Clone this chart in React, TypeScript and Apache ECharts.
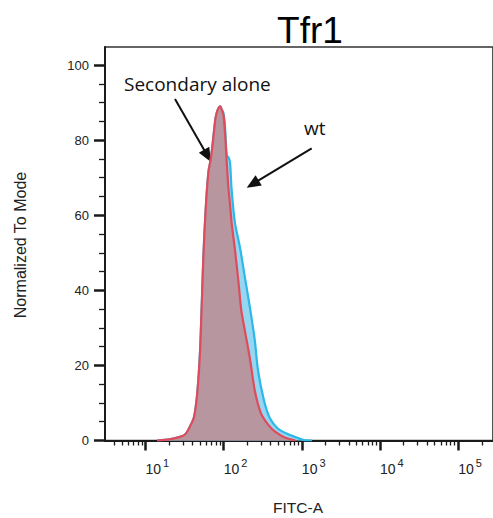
import React, { useEffect, useRef } from "react";
import * as echarts from "echarts";

// FITC-A intensity (linear units) and "Normalized To Mode" values
const secondaryFitc = [14.1, 20.1, 26.9, 32.0, 36.0, 41.6, 45.4, 48.1, 50.2, 51.6, 53.2, 54.8, 57.3, 60.7, 64.3, 68.1, 70.8, 74.3, 78.7, 83.6, 90.4, 93.8, 99.3, 104.5, 109.4, 115.1, 120.8, 126.5, 139.6, 153.8, 167.9, 186.6, 216.3, 250.0, 299.9, 368.1, 450.8, 602.6, 829.8];
const secondaryMode = [0, 0.3, 0.9, 1.6, 3.2, 6.1, 11.5, 18, 25, 32, 40, 48, 57, 66, 72, 74.7, 77.3, 81.3, 85.9, 88, 89, 88.3, 86.7, 81.3, 74.2, 67.2, 62.7, 57.9, 50.7, 42.7, 34.7, 29.3, 21.9, 13.3, 7.2, 4.3, 2.4, 0.8, 0];

const wtFitc = [14.1, 20.1, 26.9, 32.0, 36.0, 41.6, 45.4, 48.1, 50.2, 51.6, 53.2, 54.8, 57.3, 60.7, 64.3, 68.1, 70.8, 74.3, 78.7, 83.6, 90.4, 93.8, 99.3, 103.8, 109.4, 116.7, 120.8, 126.5, 139.6, 161.4, 186.6, 216.3, 250.0, 274.8, 327.3, 390.0, 492.0, 657.7, 879.0, 1069, 1349];
const wtMode = [0, 0.3, 0.9, 1.6, 3.2, 6.1, 11.5, 18, 25, 32, 40, 48, 57, 66, 72, 74.7, 77.3, 81.3, 85.9, 88, 89, 88.3, 87.2, 84, 76, 75.2, 73.9, 66.7, 57.9, 51.5, 43.5, 35.5, 26.7, 18.7, 10.7, 5.9, 3.2, 1.7, 0.7, 0.1, 0];

const yTickValues = [0, 20, 40, 60, 80, 100];
const yMinorValues = [5, 10, 15, 25, 30, 35, 45, 50, 55, 65, 70, 75, 85, 90, 95];
const xDecadeExponents = [1, 2, 3, 4, 5];
const xMinorMultipliers = [2, 3, 4, 5, 6, 7, 8, 9];

const FONT = "'Liberation Sans', Arial, sans-serif";
const AXIS_COLOR = "#1a1a1a";

function arrow(x1: number, y1: number, x2: number, y2: number) {
  const dx = x2 - x1;
  const dy = y2 - y1;
  const len = Math.sqrt(dx * dx + dy * dy);
  const ux = dx / len;
  const uy = dy / len;
  const headLen = 14;
  const halfW = 6;
  const bx = x2 - ux * headLen;
  const by = y2 - uy * headLen;
  const px = -uy * halfW;
  const py = ux * halfW;
  return [
    {
      type: "line",
      shape: { x1, y1, x2: bx + ux * 2, y2: by + uy * 2 },
      style: { stroke: "#111", lineWidth: 2 },
    },
    {
      type: "polygon",
      shape: { points: [[x2, y2], [bx + px, by + py], [bx - px, by - py]] },
      style: { fill: "#111" },
    },
  ];
}

export default function App() {
  const ref = useRef<HTMLDivElement>(null);

  useEffect(() => {
    document.body.style.margin = "0";
    const chart = echarts.init(ref.current!, null, { renderer: "svg" });

    const decade = 79.2;
    const x10 = 146;
    const gLeft = 105;
    const gRight = 498;
    const gTop = 47;
    const gBottom = 440.5;
    const pxPerUnit = 3.755;
    const xMin = 1 + (gLeft - x10) / decade;
    const xMax = 1 + (gRight - x10) / decade;
    const yMax = (gBottom - gTop) / pxPerUnit;

    const minorX: number[] = [];
    for (let k = 0; k <= 5; k++) {
      for (const m of xMinorMultipliers) {
        const v = Math.log10(m * Math.pow(10, k));
        if (v > xMin && v < xMax) minorX.push(v);
      }
    }

    const secData = secondaryFitc.map((f, i) => [Math.log10(f), secondaryMode[i]]);
    const wtData = wtFitc.map((f, i) => [Math.log10(f), wtMode[i]]);

    const option: any = {
      animation: false,
      backgroundColor: "#ffffff",
      grid: {
        left: gLeft,
        top: gTop,
        width: gRight - gLeft,
        height: gBottom - gTop,
        show: true,
        borderColor: "#333",
        borderWidth: 1.7,
        backgroundColor: "transparent",
      },
      xAxis: [
        {
          type: "value",
          position: "bottom",
          min: xMin,
          max: xMax,
          splitLine: { show: false },
          axisLine: { show: true, lineStyle: { color: AXIS_COLOR, width: 2 } },
          axisTick: {
            show: true,
            inside: false,
            length: 10,
            customValues: xDecadeExponents,
            lineStyle: { color: AXIS_COLOR, width: 2.5 },
          },
          axisLabel: {
            show: true,
            customValues: xDecadeExponents,
            margin: 17,
            align: "left",
            formatter: (v: number) => `{b|10}{s|${Math.round(v)}}`,
            rich: {
              b: { fontSize: 14, lineHeight: 22, fontFamily: FONT, color: "#222" },
              s: { fontSize: 11, lineHeight: 11, verticalAlign: "top", fontFamily: FONT, color: "#222", padding: [0, 0, 0, 2] },
            },
          },
        },
        {
          type: "value",
          position: "bottom",
          min: xMin,
          max: xMax,
          splitLine: { show: false },
          axisLine: { show: false },
          axisLabel: { show: false },
          axisTick: {
            show: true,
            inside: false,
            length: 5,
            customValues: minorX,
            lineStyle: { color: AXIS_COLOR, width: 1.3 },
          },
        },
      ],
      yAxis: [
        {
          type: "value",
          position: "left",
          min: 0,
          max: yMax,
          splitLine: { show: false },
          axisLine: { show: true, lineStyle: { color: AXIS_COLOR, width: 2 } },
          axisTick: {
            show: true,
            inside: false,
            length: 11,
            customValues: yTickValues,
            lineStyle: { color: AXIS_COLOR, width: 2.5 },
          },
          axisLabel: {
            show: true,
            customValues: yTickValues,
            margin: 16,
            fontSize: 13,
            fontFamily: FONT,
            color: "#222",
            formatter: (v: number) => String(Math.round(v)),
          },
        },
        {
          type: "value",
          position: "left",
          min: 0,
          max: yMax,
          splitLine: { show: false },
          axisLine: { show: false },
          axisLabel: { show: false },
          axisTick: {
            show: true,
            inside: false,
            length: 6,
            customValues: yMinorValues,
            lineStyle: { color: AXIS_COLOR, width: 1.3 },
          },
        },
      ],
      series: [
        {
          name: "wt",
          type: "line",
          xAxisIndex: 0,
          yAxisIndex: 0,
          data: wtData,
          smooth: 0.25,
          showSymbol: false,
          lineStyle: { color: "#2cb8e8", width: 2.2 },
          areaStyle: { color: "#96d6f0", opacity: 1 },
          z: 2,
        },
        {
          name: "Secondary alone",
          type: "line",
          xAxisIndex: 0,
          yAxisIndex: 0,
          data: secData,
          smooth: 0.25,
          showSymbol: false,
          lineStyle: { color: "#e04b5b", width: 2.2 },
          areaStyle: { color: "#b7969f", opacity: 1 },
          z: 3,
        },
      ],
      graphic: [
        {
          type: "text",
          x: 310,
          y: 30,
          style: { text: "Tfr1", font: `37px ${FONT}`, fill: "#000", align: "center", verticalAlign: "middle" },
        },
        {
          type: "text",
          x: 20,
          y: 245,
          rotation: Math.PI / 2,
          style: { text: "Normalized To Mode", font: `16px ${FONT}`, fill: "#222", align: "center", verticalAlign: "middle" },
        },
        {
          type: "text",
          x: 298,
          y: 507.5,
          style: { text: "FITC-A", font: `15.5px ${FONT}`, fill: "#222", align: "center", verticalAlign: "middle" },
        },
        {
          type: "text",
          x: 124,
          y: 84,
          style: { text: "Secondary alone", font: `19px 'Open Sans', sans-serif`, fill: "#111", align: "left", verticalAlign: "middle" },
        },
        {
          type: "text",
          x: 304,
          y: 128,
          style: { text: "wt", font: `19px 'Open Sans', sans-serif`, fill: "#111", align: "left", verticalAlign: "middle" },
        },
        ...arrow(175, 99, 211, 162),
        ...arrow(311.7, 148.3, 246.7, 187.7),
      ],
    };

    chart.setOption(option);
    return () => chart.dispose();
  }, []);

  return (
    <div
      ref={ref}
      style={{ position: "fixed", left: 0, top: 0, width: 493, height: 518, background: "#fff" }}
    />
  );
}
